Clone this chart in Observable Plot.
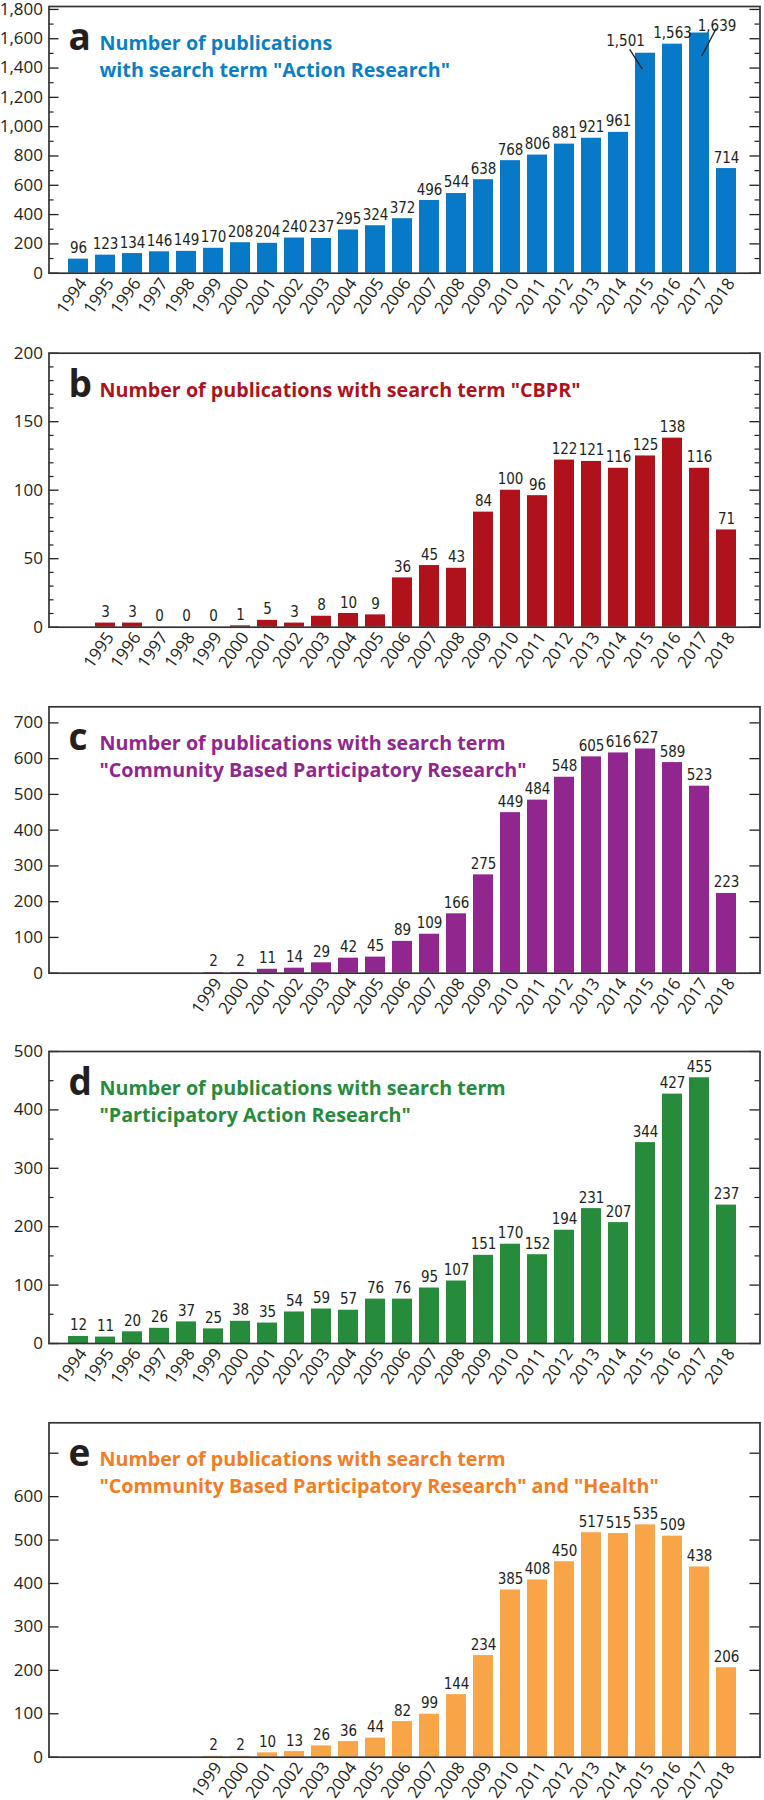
<!DOCTYPE html>
<html><head><meta charset="utf-8">
<script src="https://cdn.jsdelivr.net/npm/d3@7"></script>
<script src="https://cdn.jsdelivr.net/npm/@observablehq/plot@0.6"></script>
<style>
body{margin:0;background:#fff;}
#root{width:764px;height:1800px;position:relative;}
#root svg{overflow:visible;display:block;}
</style></head><body><div id="root"></div>
<script>
// ---------- DATA ----------
const allYears = [1994,1995,1996,1997,1998,1999,2000,2001,2002,2003,2004,2005,2006,2007,2008,2009,2010,2011,2012,2013,2014,2015,2016,2017,2018];

const yearsA = [1994,1995,1996,1997,1998,1999,2000,2001,2002,2003,2004,2005,2006,2007,2008,2009,2010,2011,2012,2013,2014,2015,2016,2017,2018];
const valuesA = [96,123,134,146,149,170,208,204,240,237,295,324,372,496,544,638,768,806,881,921,961,1501,1563,1639,714];

const yearsB = [1995,1996,1997,1998,1999,2000,2001,2002,2003,2004,2005,2006,2007,2008,2009,2010,2011,2012,2013,2014,2015,2016,2017,2018];
const valuesB = [3,3,0,0,0,1,5,3,8,10,9,36,45,43,84,100,96,122,121,116,125,138,116,71];

const yearsC = [1999,2000,2001,2002,2003,2004,2005,2006,2007,2008,2009,2010,2011,2012,2013,2014,2015,2016,2017,2018];
const valuesC = [2,2,11,14,29,42,45,89,109,166,275,449,484,548,605,616,627,589,523,223];

const yearsD = [1994,1995,1996,1997,1998,1999,2000,2001,2002,2003,2004,2005,2006,2007,2008,2009,2010,2011,2012,2013,2014,2015,2016,2017,2018];
const valuesD = [12,11,20,26,37,25,38,35,54,59,57,76,76,95,107,151,170,152,194,231,207,344,427,455,237];

const yearsE = [1999,2000,2001,2002,2003,2004,2005,2006,2007,2008,2009,2010,2011,2012,2013,2014,2015,2016,2017,2018];
const valuesE = [2,2,10,13,26,36,44,82,99,144,234,385,408,450,517,515,535,509,438,206];

const titleA = ["Number of publications", "with search term \"Action Research\""];
const titleB = ["Number of publications with search term \"CBPR\""];
const titleC = ["Number of publications with search term", "\"Community Based Participatory Research\""];
const titleD = ["Number of publications with search term", "\"Participatory Action Research\""];
const titleE = ["Number of publications with search term", "\"Community Based Participatory Research\" and \"Health\""];

const ticksA = [0,200,400,600,800,1000,1200,1400,1600,1800];
const minorA = [100,300,500,700,900,1100,1300,1500,1700];
const ticksB = [0,50,100,150,200];
const minorB = [10,20,30,40,60,70,80,90,110,120,130,140,160,170,180,190];
const ticksC = [0,100,200,300,400,500,600,700];
const ticksD = [0,100,200,300,400,500];
const minorD = [50,150,250,350,450];
const ticksE = [0,100,200,300,400,500,600,700];
const labelsE = [0,100,200,300,400,500,600];

// ---------- STYLE / LAYOUT ----------
const W = 764, ML = 48.5, MR = 4.5;
const innerW = W - ML - MR;
const ink = "#231f20";
const narrow = "'Liberation Sans Narrow', 'DejaVu Sans Condensed', 'Arial Narrow', sans-serif";
const sans = "'Open Sans', 'Noto Sans', sans-serif";
const fmt = d3.format(",");

const panels = [
  {letter:"a", years:yearsA, values:valuesA, title:titleA, ticks:ticksA, labels:ticksA, minor:minorA,
   yMax:1820, height:345, mt:6, mb:72.3, color:"#0879c6", tcolor:"#0a7fc8",
   callouts:[{year:2015, dx:-20, dy:-7, lead:[-15.3,-3.4,-2.7,16.3]},
             {year:2017, dx:17.5, dy:-2.5, lead:[17.3,-4.2,2.7,23.5]}]},
  {letter:"b", years:yearsB, values:valuesB, title:titleB, ticks:ticksB, labels:ticksB, minor:minorB,
   yMax:200, height:350, mt:7.7, mb:68.3, color:"#af121b", tcolor:"#af121b", callouts:[]},
  {letter:"c", years:yearsC, values:valuesC, title:titleC, ticks:ticksC, labels:ticksC, minor:[],
   yMax:745, height:345, mt:11.3, mb:67.3, color:"#92268f", tcolor:"#92268f", callouts:[]},
  {letter:"d", years:yearsD, values:valuesD, title:titleD, ticks:ticksD, labels:ticksD, minor:minorD,
   yMax:500, height:365, mt:11, mb:62, color:"#268c3b", tcolor:"#268c3b", callouts:[]},
  {letter:"e", years:yearsE, values:valuesE, title:titleE, ticks:ticksE, labels:labelsE, minor:[],
   yMax:770, height:395, mt:17.3, mb:43.3, color:"#f8a548", tcolor:"#f47c22", callouts:[]}
];

const root = document.getElementById("root");

for (const p of panels) {
  const data = p.years.map((y, i) => ({year: y, value: p.values[i]}));
  const calloutYears = new Set(p.callouts.map(c => c.year));
  const normal = data.filter(d => !calloutYears.has(d.year));
  const marks = [
    Plot.barY(data, {x: "year", y: "value", fill: p.color}),
    Plot.tickY(p.ticks, {y: d => d, insetRight: innerW - 10, stroke: ink, strokeWidth: 1.3}),
    Plot.tickY(p.ticks, {y: d => d, insetLeft: innerW - 10, stroke: ink, strokeWidth: 1.3}),
    Plot.tickY(p.minor, {y: d => d, insetRight: innerW - 5, stroke: ink, strokeWidth: 1.2}),
    Plot.tickY(p.minor, {y: d => d, insetLeft: innerW - 5, stroke: ink, strokeWidth: 1.2}),
    Plot.text(p.labels, {y: d => d, text: d => fmt(d), frameAnchor: "left", textAnchor: "end",
      dx: -6, fontSize: 17, fill: ink, fontFamily: sans}),
    Plot.text(data, {x: "year", text: d => String(d.year), frameAnchor: "bottom", rotate: -55,
      textAnchor: "end", lineAnchor: "middle", dx: 4.5, dy: 7, fontSize: 17, fill: ink, fontFamily: sans}),
    Plot.text(normal, {x: "year", y: "value", text: d => fmt(d.value), lineAnchor: "bottom",
      dy: -6, fontSize: 15, fill: ink, fontFamily: narrow}),
    ...p.callouts.map(c => Plot.text(data.filter(d => d.year === c.year),
      {x: "year", y: "value", text: d => fmt(d.value), lineAnchor: "bottom",
       dx: c.dx, dy: c.dy, fontSize: 15, fill: ink, fontFamily: narrow})),
    Plot.frame({stroke: "#333", strokeWidth: 1.7}),
    Plot.text([p.letter], {frameAnchor: "top-left", text: d => d, lineAnchor: "bottom", textAnchor: "start",
      dx: 19.5, dy: 43.5, fontSize: 37, fontWeight: "bold", fill: "#231f20", fontFamily: sans}),
    ...p.title.map((t, i) => Plot.text([t], {frameAnchor: "top-left", text: d => d, lineAnchor: "bottom",
      textAnchor: "start", dx: 50.5, dy: 43.5 + i * 26.5, fontSize: 19.7, fontWeight: "bold",
      fill: p.tcolor, fontFamily: sans}))
  ];
  const plot = Plot.plot({
    width: W, height: p.height,
    marginLeft: ML, marginRight: MR, marginTop: p.mt, marginBottom: p.mb,
    style: {background: "transparent", overflow: "visible", fontFamily: sans},
    x: {domain: allYears, range: [59.8, 744.4], padding: 0.262, axis: null},
    y: {domain: [0, p.yMax], axis: null},
    marks
  });
  // leader lines for offset labels, positioned via the plot's scales
  if (p.callouts.length) {
    const xs = plot.scale("x"), ys = plot.scale("y");
    const svg = d3.select(plot);
    for (const c of p.callouts) {
      const d = data.find(d => d.year === c.year);
      const cx = xs.apply(c.year) + xs.bandwidth / 2;
      const cy = ys.apply(d.value);
      svg.append("line")
        .attr("x1", cx + c.lead[0]).attr("y1", cy + c.lead[1])
        .attr("x2", cx + c.lead[2]).attr("y2", cy + c.lead[3])
        .attr("stroke", ink).attr("stroke-width", 1.3);
    }
  }
  root.appendChild(plot);
}
</script></body></html>
